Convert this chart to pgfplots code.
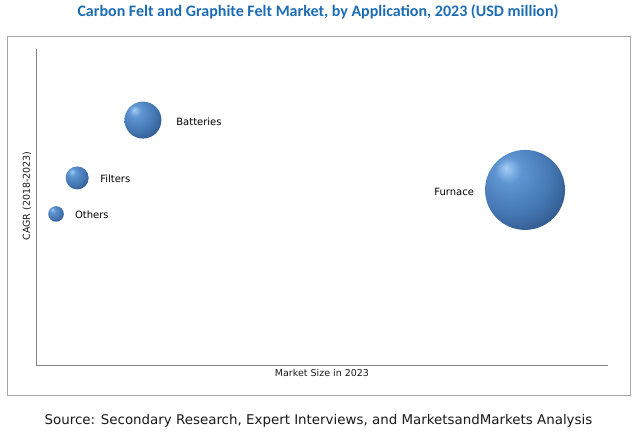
\documentclass[border=0pt]{standalone}
\usepackage{pgfplots}
\pgfplotsset{compat=1.18}
\usepackage{fontspec}
\setmainfont{DejaVu Sans}
\newfontfamily\titlefont{Carlito}
\definecolor{titleblue}{RGB}{28,108,180}
\definecolor{framegray}{RGB}{165,165,165}
\definecolor{axisgray}{RGB}{130,130,130}
\definecolor{txt}{RGB}{25,25,25}
\definecolor{hl}{RGB}{165,205,245}
\definecolor{bA}{RGB}{95,150,210}
\definecolor{bB}{RGB}{68,118,178}
\definecolor{bC}{RGB}{40,75,122}
\definecolor{bD}{RGB}{18,32,55}
\pgfdeclareradialshading{myball}{\pgfpoint{-12bp}{14bp}}{color(0bp)=(hl); color(8bp)=(bA); color(24bp)=(bB); color(40bp)=(bC); color(54bp)=(bD); color(64bp)=(bD)}
\pgfdeclareplotmark{sphere}{\pgfpathcircle{\pgfpointorigin}{\pgfplotmarksize}\pgfshadepath{myball}{0}\pgfusepath{discard}}
\begin{document}
\begin{tikzpicture}
\useasboundingbox (0pt,0pt) rectangle (635pt,435pt);
\draw[framegray, line width=0.9pt] (7pt,40pt) rectangle (630pt,399pt);
\node[font=\titlefont\bfseries\fontsize{16}{18}\selectfont, text=titleblue] at (318pt,423pt) {Carbon Felt and Graphite Felt Market, by Application, 2023 (USD million)};
\node[font=\fontsize{13.4}{15}\selectfont, text=txt] at (318.5pt,14pt) {Source: Secondary Research, Expert Interviews, and MarketsandMarkets Analysis};
\node[font=\fontsize{9.5}{11}\selectfont, text=txt, rotate=90] at (27pt,239pt) {CAGR (2018-2023)};
\begin{axis}[at={(36pt,70pt)}, anchor=south west, scale only axis,
  width=572pt, height=316pt, xmin=0, xmax=100, ymin=0, ymax=100,
  axis lines=left, axis line style={-, draw=axisgray, line width=0.8pt},
  ticks=none, clip=false,
  xlabel={Market Size in 2023},
  label style={font=\fontsize{9.5}{11}\selectfont, text=txt},
  xlabel style={at={(axis description cs:0.5,0)}, anchor=center, yshift=-8pt},
  every node/.append style={font=\fontsize{9.5}{11}\selectfont, text=txt}]
\addplot[only marks, mark=sphere, mark size=18.5pt] coordinates {(18.7,77.5)};
\addplot[only marks, mark=sphere, mark size=11.5pt] coordinates {(7.2,59.2)};
\addplot[only marks, mark=sphere, mark size=7.8pt] coordinates {(3.5,47.8)};
\addplot[only marks, mark=sphere, mark size=40pt] coordinates {(85.5,55.4)};
\node[anchor=west, inner sep=0pt] at (axis cs:24.5,76.9) {Batteries};
\node[anchor=west, inner sep=0pt] at (axis cs:11.2,58.9) {Filters};
\node[anchor=west, inner sep=0pt] at (axis cs:6.8,47.5) {Others};
\node[anchor=east, inner sep=0pt] at (axis cs:76.6,54.7) {Furnace};
\end{axis}
\end{tikzpicture}
\end{document}
